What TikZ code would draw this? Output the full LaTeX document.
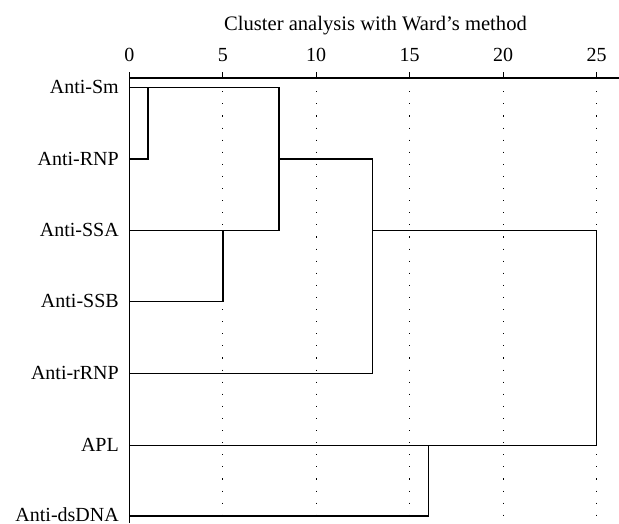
\documentclass[tikz,border=0pt]{standalone}
\usepackage{fontspec}
\setmainfont{Liberation Serif}
\begin{document}
\begin{tikzpicture}[x=1pt,y=-1pt,font=\fontsize{20}{24}\selectfont]
\useasboundingbox (0,0) rectangle (619,523);
\tikzset{
  tree/.style={line width=1.5pt,line join=miter},
  axisline/.style={line width=1.4pt},
  tickline/.style={line width=1pt},
  guide/.style={line width=1.1pt,dash pattern=on 1.1pt off 11pt},
  leaflabel/.style={anchor=base east,inner sep=0pt},
  ticklabel/.style={anchor=base,inner sep=0pt},
}
% rows of the seven leaves (pt, measured downwards)
\def\rA{87.5}\def\rB{159}\def\rC{230.3}\def\rD{301.7}
\def\rE{373.7}\def\rF{445.3}\def\rG{516}

% title
\node[ticklabel,font=\fontsize{20.6}{24}\selectfont] (title) at (375.5,30) {Cluster analysis with Ward’s method};

% leaf labels
\node[leaflabel] (lab1) at (119,\rA+6) {Anti-Sm};
\node[leaflabel] (lab2) at (119,\rB+6) {Anti-RNP};
\node[leaflabel] (lab3) at (119,\rC+6) {Anti-SSA};
\node[leaflabel] (lab4) at (119,\rD+6) {Anti-SSB};
\node[leaflabel] (lab5) at (119,\rE+6) {Anti-rRNP};
\node[leaflabel] (lab6) at (119,\rF+6) {APL};
\node[leaflabel] (lab7) at (119,\rG+5.5) {Anti-dsDNA};

% axis: top rule across the whole width
\coordinate (axL) at (129.3,78);
\coordinate (axR) at (619,78);
\draw[axisline] (axL) -- (axR);

\begin{scope}[shift={(129.3,0)},x=18.69pt]
  % distance scale: ticks, numbers and dotted guides
  \foreach \v in {0,5,10,15,20,25}{
    \coordinate (tk\v) at (\v,72);
    \coordinate (tb\v) at (\v,78);
    \draw[tickline] (tk\v) -- (tb\v);
    \node[ticklabel] (num\v) at (\v,61.7) {\v};
  }
  \foreach \v in {5,10,15,20,25}{
    \coordinate (gt\v) at (\v,91.2);
    \coordinate (gb\v) at (\v,523);
    \draw[guide] (gt\v) -- (gb\v);
  }
  % left rule
  \coordinate (lt) at (0,72);
  \coordinate (lb) at (0,523);
  \draw[line width=1pt] (lt) -- (lb);

  % leaves
  \coordinate (L1) at (0,\rA);
  \coordinate (L2) at (0,\rB);
  \coordinate (L3) at (0,\rC);
  \coordinate (L4) at (0,\rD);
  \coordinate (L5) at (0,\rE);
  \coordinate (L6) at (0,\rF);
  \coordinate (L7) at (0,\rG);

  % merge points
  \coordinate (m1) at (1,\rA);
  \coordinate (m2) at (5,\rC);
  \coordinate (m3a) at (8,\rA);
  \coordinate (m3) at (8,\rB);
  \coordinate (m3b) at (8,\rC);
  \coordinate (m4) at (13,\rC);
  \coordinate (m4b) at (13,\rE);
  \coordinate (m5) at (16,\rF);
  \coordinate (m6) at (25,\rF);

  % dendrogram
  \draw[tree] (L2) -| (m1);
  \draw[tree] (L4) -| (m2);
  \draw[tree] (L1) -- (m3a) -- (m3b) -- (L3);
  \draw[tree] (m3) -| (m4b) -- (L5);
  \draw[tree] (m4) -| (m6) -- (L6);
  \draw[tree] (L7) -| (m5);
\end{scope}
\end{tikzpicture}
\end{document}
